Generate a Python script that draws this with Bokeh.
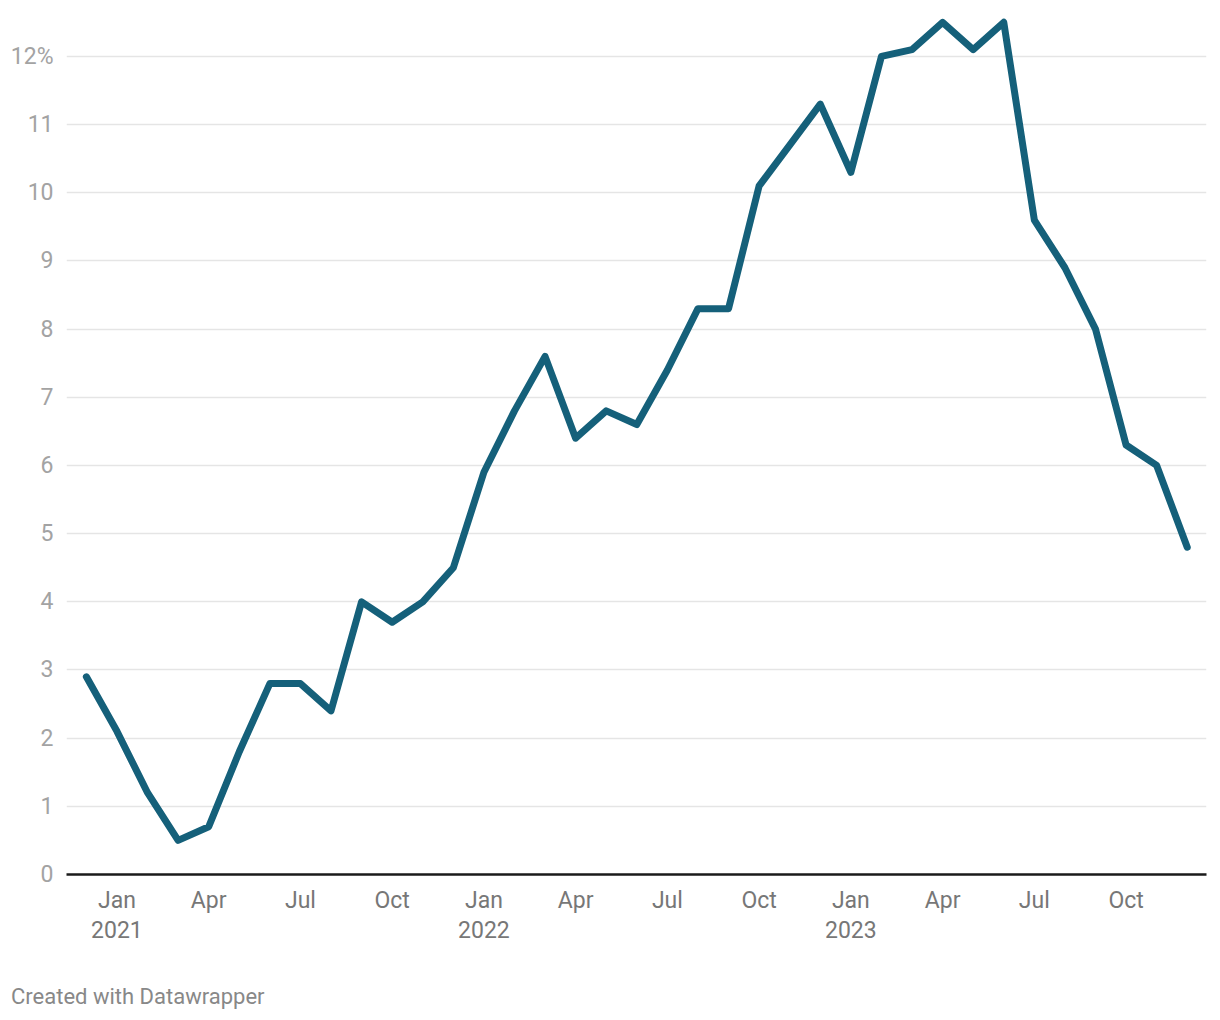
import pandas as pd
from bokeh.plotting import figure
from bokeh.models import Range1d, FixedTicker, Div
from bokeh.layouts import column
from bokeh.embed import file_html
from bokeh.resources import INLINE

# ---- data ----
months = pd.date_range("2020-12-01", periods=37, freq="MS")
values = [2.9, 2.1, 1.2, 0.5, 0.7, 1.8, 2.8, 2.8, 2.4, 4.0, 3.7, 4.0, 4.5,
          5.9, 6.8, 7.6, 6.4, 6.8, 6.6, 7.4, 8.3, 8.3, 10.1, 10.7, 11.3,
          10.3, 12.0, 12.1, 12.5, 12.1, 12.5, 9.6, 8.9, 8.0, 6.3, 6.0, 4.8]
tick_months = ["2021-01", "2021-04", "2021-07", "2021-10",
               "2022-01", "2022-04", "2022-07", "2022-10",
               "2023-01", "2023-04", "2023-07", "2023-10"]
tick_labels = ["Jan\n2021", "Apr", "Jul", "Oct",
               "Jan\n2022", "Apr", "Jul", "Oct",
               "Jan\n2023", "Apr", "Jul", "Oct"]
y_ticks = list(range(0, 13))
y_labels = {t: (f"{t}%" if t == 12 else str(t)) for t in y_ticks}
credit_text = "Created with Datawrapper"

start = months[0]
def month_index(ts):
    ts = pd.Timestamp(ts)
    return (ts.year - start.year) * 12 + (ts.month - start.month)

x = [month_index(m) for m in months]
xt = [month_index(m) for m in tick_months]

W, H = 1212, 950
p = figure(width=W, height=H, output_backend="svg", toolbar_location=None,
           x_range=Range1d(-0.65, 36.63), y_range=Range1d(0, 12.6),
           min_border_left=66, min_border_right=6, min_border_top=15,
           min_border_bottom=H - 874)
p.outline_line_color = None
p.background_fill_color = "white"
p.border_fill_color = "white"

p.line(x, values, line_color="#15607a", line_width=7,
       line_join="round", line_cap="round")

# y axis
p.yaxis.ticker = FixedTicker(ticks=y_ticks)
p.yaxis.major_label_overrides = y_labels
p.yaxis.axis_line_color = None
p.yaxis.major_tick_line_color = None
p.yaxis.minor_tick_line_color = None
p.yaxis.major_label_text_font = "Roboto"
p.yaxis.major_label_text_font_size = "23px"
p.yaxis.major_label_text_color = "#a3a3a3"
p.yaxis.major_label_standoff = 7

# x axis
p.xaxis.ticker = FixedTicker(ticks=xt)
p.xaxis.major_label_overrides = {t: l for t, l in zip(xt, tick_labels)}
p.xaxis.axis_line_color = "#1a1a1a"
p.xaxis.axis_line_width = 2.5
p.xaxis.major_tick_line_color = None
p.xaxis.minor_tick_line_color = None
p.xaxis.major_label_text_font = "Roboto"
p.xaxis.major_label_text_font_size = "23px"
p.xaxis.major_label_text_color = "#777777"
p.xaxis.major_label_text_line_height = 1.12
p.xaxis.major_label_standoff = 6

p.xgrid.grid_line_color = None
p.ygrid.grid_line_color = "#e5e5e5"
p.ygrid.grid_line_width = 1.5

credit = Div(text=credit_text, width=600, height=26, margin=(984 - H, 0, 0, 11),
             styles={"font-family": "Roboto", "font-size": "22px",
                     "color": "#888888", "line-height": "26px"})

layout = column(p, credit, spacing=0)
open("out.html", "w").write(file_html(layout, INLINE))
